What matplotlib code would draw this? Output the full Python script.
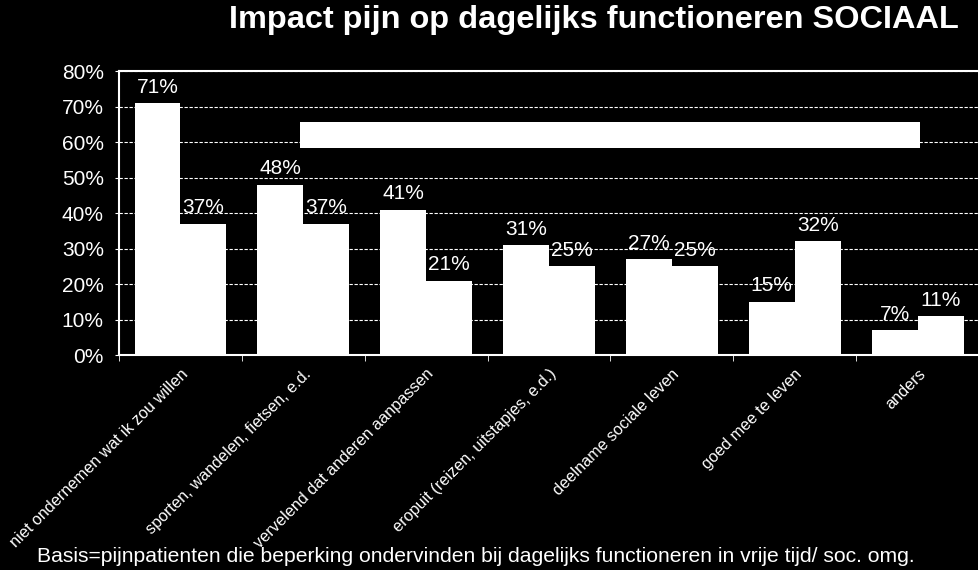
import matplotlib.pyplot as plt
import numpy as np
from matplotlib.patches import Rectangle
from matplotlib.ticker import FixedLocator, PercentFormatter

plt.rcParams['font.family'] = ['Liberation Sans', 'DejaVu Sans']

categories = ["niet ondernemen wat ik zou willen", "sporten, wandelen, fietsen, e.d.",
              "vervelend dat anderen aanpassen", "eropuit (reizen, uitstapjes, e.d.)",
              "deelname sociale leven", "goed mee te leven", "anders"]
serie1 = [71, 48, 41, 31, 27, 15, 7]
serie2 = [37, 37, 21, 25, 25, 32, 11]

fig = plt.figure(figsize=(9.79, 5.70), dpi=100, facecolor="black")
ax = fig.add_axes([0.1216, 0.377, 0.8784, 0.4984])
ax.set_facecolor("black")

x = np.arange(len(categories))
w = 0.374
b1 = ax.bar(x - w / 2, serie1, w, color="white", zorder=3)
b2 = ax.bar(x + w / 2, serie2, w, color="white", zorder=3)
for bars, vals in ((b1, serie1), (b2, serie2)):
    for r, v in zip(bars, vals):
        ax.text(r.get_x() + r.get_width() / 2, v + 1.8, f"{v}%", ha="center", va="bottom",
                color="white", fontsize=15, zorder=4)

ax.set_xlim(-0.5, len(categories) - 0.5)
ax.set_ylim(0, 80)
ax.set_yticks(range(0, 81, 10))
ax.yaxis.set_major_formatter(PercentFormatter(decimals=0))
ax.grid(axis="y", color="white", linestyle="--", linewidth=0.8, dashes=(3, 1.5), zorder=1)

ax.set_xticks(x)
ax.set_xticklabels(categories, rotation=45, ha="right", rotation_mode="anchor", fontsize=11.7)
ax.tick_params(axis="x", length=0, pad=8, colors="white")
ax.xaxis.set_minor_locator(FixedLocator(np.arange(-0.5, len(categories), 1)))
ax.tick_params(axis="x", which="minor", length=4, color="white", direction="out")
ax.tick_params(axis="y", length=3, color="white", labelcolor="white", labelsize=15, pad=8)

for s in ("left", "bottom", "top"):
    ax.spines[s].set_color("white")
    ax.spines[s].set_linewidth(1.5)
ax.spines["right"].set_visible(False)

# empty legend box
ax.add_patch(Rectangle((0.2105, 0.729), 0.721, 0.091, transform=ax.transAxes,
                       facecolor="white", edgecolor="none", zorder=5))

fig.text(0.979, 0.965, "Impact pijn op dagelijks functioneren SOCIAAL", ha="right", va="center",
         color="white", fontsize=23.4, fontweight="bold")
fig.text(0.038, 0.023, "Basis=pijnpatienten die beperking ondervinden bij dagelijks functioneren in vrije tijd/ soc. omg.",
         ha="left", va="center", color="white", fontsize=15.2)

fig.savefig("out.png", dpi=100, facecolor="black")
